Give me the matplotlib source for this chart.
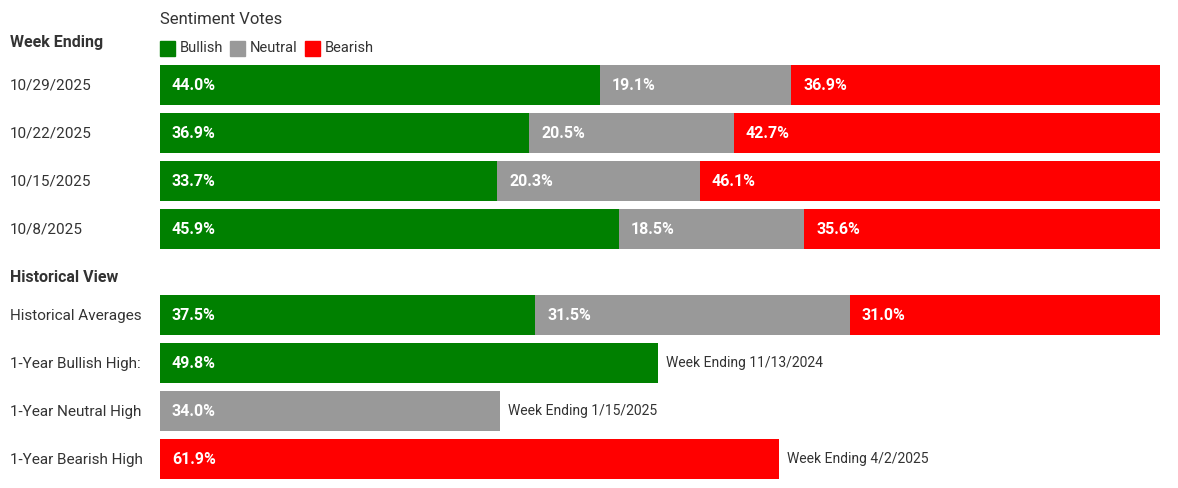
import matplotlib.pyplot as plt
from matplotlib.patches import Rectangle

# ── Data ──────────────────────────────────────────────────────
weeks    = ["10/29/2025", "10/22/2025", "10/15/2025", "10/8/2025"]
bullish  = [44.0, 36.9, 33.7, 45.9]
neutral  = [19.1, 20.5, 20.3, 18.5]
bearish  = [36.9, 42.7, 46.1, 35.6]

hist_avg = [37.5, 31.5, 31.0]   # bullish, neutral, bearish

high_labels = ["1-Year Bullish High:", "1-Year Neutral High", "1-Year Bearish High"]
high_values = [49.8, 34.0, 61.9]
high_weeks  = ["Week Ending 11/13/2024", "Week Ending 1/15/2025", "Week Ending 4/2/2025"]

# ── Style ─────────────────────────────────────────────────────
W, H = 1178, 488
GREEN, GRAY, RED = "#008000", "#999999", "#ff0000"
TXT = "#333333"
plt.rcParams["font.family"] = ["Roboto", "DejaVu Sans"]

fig = plt.figure(figsize=(W / 100, H / 100), dpi=100)

# overlay in pixel coords for the labels / headings
lay = fig.add_axes([0, 0, 1, 1])
lay.set_xlim(0, W)
lay.set_ylim(H, 0)
lay.axis("off")

# bar axes: 0..100 % spans px 160..1160, y in pixels
ax = fig.add_axes([160 / W, 0, 1000 / W, 1])
ax.set_xlim(0, 100)
ax.set_ylim(H, 0)
ax.axis("off")

BAR_H = 40
week_y = [85, 133, 181, 229]
hist_y = 315
high_y = [363, 411, 459]


def seg_label(x0, y, val):
    ax.text(x0 + 1.2, y + 1, f"{val:.1f}%", color="white", fontsize=11.5,
            fontweight="bold", va="center", ha="left")


def stacked(y, b, n, r):
    ax.barh(y, b, height=BAR_H, color=GREEN, left=0)
    ax.barh(y, n, height=BAR_H, color=GRAY, left=b)
    ax.barh(y, r, height=BAR_H, color=RED, left=b + n)
    seg_label(0, y, b)
    seg_label(b, y, n)
    seg_label(b + n, y, r)


# ── Headings + legend ─────────────────────────────────────────
lay.text(160, 20, "Sentiment Votes", fontsize=12, color=TXT, va="center")
lay.text(10, 43, "Week Ending", fontsize=11.5, fontweight="bold", color=TXT, va="center")
for x, c, lab in [(160, GREEN, "Bullish"), (230, GRAY, "Neutral"), (305, RED, "Bearish")]:
    lay.add_patch(Rectangle((x, 41), 15, 15, color=c))
    lay.text(x + 20, 48, lab, fontsize=10.5, color=TXT, va="center")

# ── Weekly rows ───────────────────────────────────────────────
for i, wk in enumerate(weeks):
    lay.text(10, week_y[i] + 1, wk, fontsize=11, color=TXT, va="center")
    stacked(week_y[i], bullish[i], neutral[i], bearish[i])

# ── Historical view ───────────────────────────────────────────
lay.text(10, 278, "Historical View", fontsize=11.5, fontweight="bold", color=TXT, va="center")
lay.text(10, hist_y + 1, "Historical Averages", fontsize=11, color=TXT, va="center")
stacked(hist_y, *hist_avg)

for i, (lab, val, wk, c) in enumerate(zip(high_labels, high_values, high_weeks,
                                          [GREEN, GRAY, RED])):
    y = high_y[i]
    lay.text(10, y + 1, lab, fontsize=11, color=TXT, va="center")
    ax.barh(y, val, height=BAR_H, color=c)
    seg_label(0, y, val)
    ax.text(val + 0.8, y, wk, fontsize=10, color=TXT, va="center", ha="left")

fig.savefig("out.png", dpi=100)
